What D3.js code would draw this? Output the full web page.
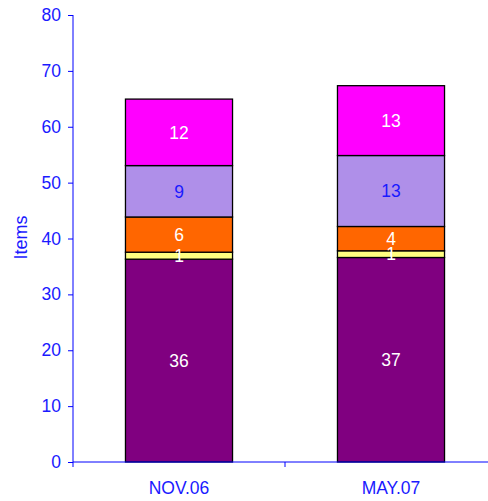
<!DOCTYPE html>
<html><head><meta charset="utf-8">
<script src="https://cdn.jsdelivr.net/npm/d3@7"></script>
<style>body{margin:0;background:#fff;}svg{display:block;font-family:"Liberation Sans",Arial,sans-serif;}</style>
</head><body>
<script>
const categories = ["NOV.06", "MAY.07"];
const seriesNames = ["s1", "s2", "s3", "s4", "s5"];
const purpleVals = [36.3, 36.6];
const yellowVals = [1.25, 1.2];
const orangeVals = [6.3, 4.35];
const lavenderVals = [9.2, 12.7];
const magentaVals = [11.9, 12.5];
const seriesColors = ["#800080", "#FFFF80", "#FF6600", "#AF8FE9", "#FF00FF"];
const labelColors = ["#fff", "#fff", "#fff", "#1a1aff", "#fff"];
const yTicks = [0, 10, 20, 30, 40, 50, 60, 70, 80];
const yTitle = "Items";

const W = 488, H = 501;
const svg = d3.select("body").append("svg").attr("width", W).attr("height", H);
const x0 = 73, x1 = 497, yTop = 15, yBot = 462;
const x = d3.scaleBand().domain(categories).range([x0, x1]).paddingInner(0).paddingOuter(0);
const y = d3.scaleLinear().domain([0, 80]).range([yBot, yTop]);
const axisColor = "#0000FF";
const textColor = "#1a1aff";

const allVals = [purpleVals, yellowVals, orangeVals, lavenderVals, magentaVals];
const table = categories.map((c, i) => {
  const o = {cat: c};
  seriesNames.forEach((s, j) => o[s] = allVals[j][i]);
  return o;
});
const stack = d3.stack().keys(seriesNames)(table);
const barW = x.bandwidth() * 0.505;

stack.forEach((layer, j) => {
  const g = svg.append("g");
  layer.forEach(d => {
    const cx = x(d.data.cat) + x.bandwidth() / 2;
    g.append("rect")
      .attr("x", cx - barW / 2).attr("width", barW)
      .attr("y", y(d[1])).attr("height", y(d[0]) - y(d[1]))
      .attr("fill", seriesColors[j]).attr("stroke", "#000").attr("stroke-width", 1.3);
  });
});
stack.forEach((layer, j) => {
  layer.forEach(d => {
    const cx = x(d.data.cat) + x.bandwidth() / 2;
    svg.append("text")
      .attr("x", cx).attr("y", (y(d[0]) + y(d[1])) / 2)
      .attr("dy", "0.36em").attr("text-anchor", "middle")
      .attr("font-size", 17.5).attr("fill", labelColors[j])
      .text(d3.format(".0f")(d[1] - d[0]));
  });
});

// y axis
const yAxis = d3.axisLeft(y).tickValues(yTicks).tickSize(5).tickPadding(7);
const gy = svg.append("g").attr("transform", `translate(${x0},0)`).call(yAxis);
gy.select(".domain").attr("stroke", axisColor).attr("d", `M0,${yTop}V${yBot}`);
gy.selectAll(".tick line").attr("stroke", axisColor);
gy.selectAll(".tick text").attr("fill", textColor).attr("font-size", 17.5).attr("font-family", "Liberation Sans, Arial, sans-serif");

// x axis
const gx = svg.append("g").attr("transform", `translate(0,${yBot})`);
gx.append("line").attr("x1", x0).attr("x2", x1).attr("stroke", axisColor);
categories.forEach(c => {
  gx.append("line").attr("x1", x(c) + x.bandwidth()).attr("x2", x(c) + x.bandwidth())
    .attr("y1", 0).attr("y2", 5).attr("stroke", axisColor);
  gx.append("text").attr("x", x(c) + x.bandwidth() / 2).attr("y", 26)
    .attr("dy", "0.36em").attr("text-anchor", "middle")
    .attr("font-size", 17.5).attr("fill", textColor).text(c);
});
gx.append("line").attr("x1", x0).attr("x2", x0).attr("y1", 0).attr("y2", 5).attr("stroke", axisColor);

svg.append("text")
  .attr("transform", `translate(26.5,237.5) rotate(-90)`)
  .attr("text-anchor", "middle")
  .attr("font-size", 18).attr("fill", textColor).text(yTitle);
</script>
</body></html>
